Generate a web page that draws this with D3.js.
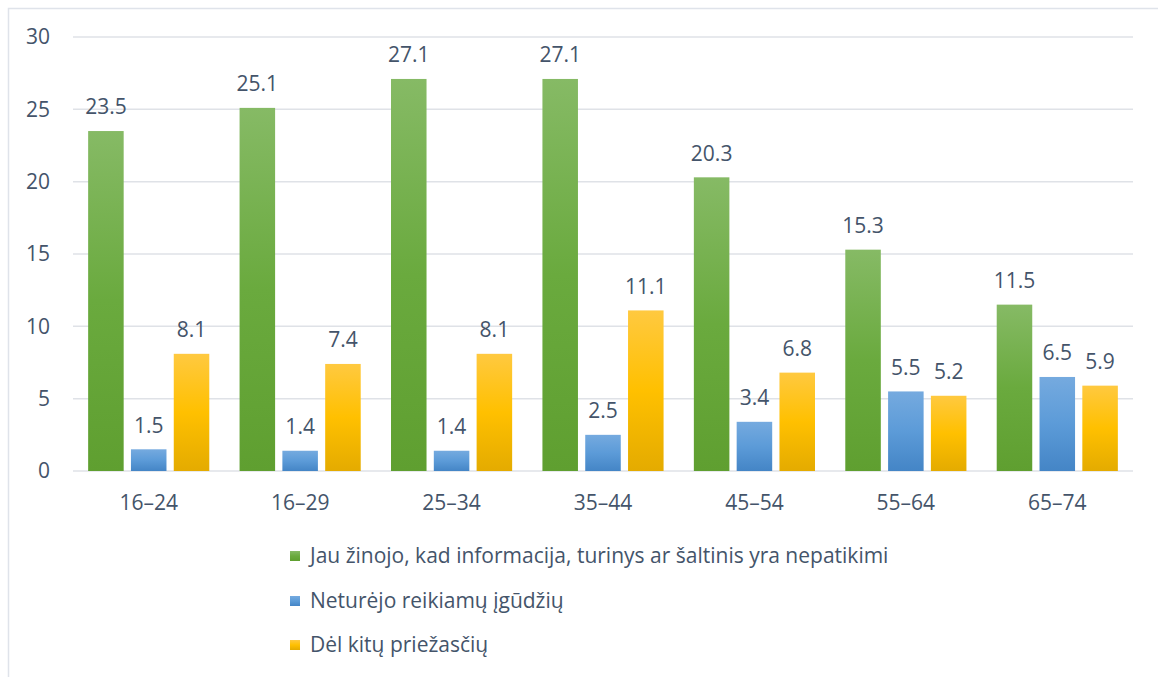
<!DOCTYPE html>
<html><head><meta charset="utf-8">
<script src="https://cdn.jsdelivr.net/npm/d3@7"></script>
<style>body{margin:0;background:#fff}svg{display:block}</style>
</head><body>
<svg id="c" width="1158" height="677"></svg>
<script>
const categories = ["16–24","16–29","25–34","35–44","45–54","55–64","65–74"];
const seriesNames = ["Jau žinojo, kad informacija, turinys ar šaltinis yra nepatikimi","Neturėjo reikiamų įgūdžių","Dėl kitų priežasčių"];
const known = [23.5,25.1,27.1,27.1,20.3,15.3,11.5];
const skills = [1.5,1.4,1.4,2.5,3.4,5.5,6.5];
const other = [8.1,7.4,8.1,11.1,6.8,5.2,5.9];
const yTicks = [0,5,10,15,20,25,30];

const series = [known, skills, other];
const grads = [
  ["#86ba65","#6aaa3e","#5f9f30"],
  ["#75aadf","#5c9bd8","#4485c6"],
  ["#ffc940","#ffc000","#e4ab00"]
];
const svg = d3.select("#c");
const font = "'Open Sans', 'Noto Sans', sans-serif";
const fs = 21;
const txt = "#44546a";
const defs = svg.append("defs");
grads.forEach((g,i)=>{
  const lg = defs.append("linearGradient").attr("id","g"+i).attr("x1",0).attr("y1",0).attr("x2",0).attr("y2",1);
  lg.append("stop").attr("offset","0%").attr("stop-color",g[0]);
  lg.append("stop").attr("offset","50%").attr("stop-color",g[1]);
  lg.append("stop").attr("offset","100%").attr("stop-color",g[2]);
});
// border
svg.append("rect").attr("x",8.5).attr("y",8.5).attr("width",1200).attr("height",800)
  .attr("fill","none").attr("stroke","#dfe3ea").attr("stroke-width",1.5);

const x0 = d3.scaleBand().domain(categories).range([73,1133]).paddingInner(0.2).paddingOuter(0.1);
const y = d3.scaleLinear().domain([0,30]).range([471,37]);
const x1 = d3.scaleBand().domain([0,1,2]).range([0,x0.bandwidth()]).paddingInner(0.17);

// gridlines
svg.append("g").selectAll("line").data(yTicks).join("line")
  .attr("x1",73).attr("x2",1133).attr("y1",d=>y(d)).attr("y2",d=>y(d))
  .attr("stroke","#dfe2e7").attr("stroke-width",1.5);

// y axis
const ya = svg.append("g").attr("transform","translate(50,0)")
  .call(d3.axisLeft(y).tickValues(yTicks).tickSize(0).tickPadding(0));
ya.select(".domain").remove();
ya.selectAll("text").attr("font-family",font).attr("font-size",fs).attr("fill",txt).attr("text-anchor","end");

// x axis labels
const xa = svg.append("g").attr("transform","translate(0,503)")
  .call(d3.axisBottom(x0).tickSize(0).tickPadding(0));
xa.select(".domain").remove();
xa.selectAll("text").attr("font-family",font).attr("font-size",fs).attr("fill",txt).attr("dy","0.35em");

// bars
const groups = svg.append("g").selectAll("g").data(categories).join("g")
  .attr("transform",d=>`translate(${x0(d)},0)`);
groups.selectAll("rect").data((d,ci)=>series.map((s,si)=>({si,v:s[ci]}))).join("rect")
  .attr("x",d=>x1(d.si)).attr("width",x1.bandwidth())
  .attr("y",d=>y(d.v)).attr("height",d=>y(0)-y(d.v))
  .attr("fill",d=>`url(#g${d.si})`);
groups.selectAll("text").data((d,ci)=>series.map((s,si)=>({si,v:s[ci]}))).join("text")
  .attr("x",d=>x1(d.si)+x1.bandwidth()/2).attr("y",d=>y(d.v)-24)
  .attr("dy","0.35em").attr("text-anchor","middle")
  .attr("font-family",font).attr("font-size",fs).attr("fill",txt)
  .text(d=>d.v.toFixed(1));

// legend
const lg = svg.append("g").selectAll("g").data(seriesNames).join("g")
  .attr("transform",(d,i)=>`translate(290,${[556,601,645][i]})`);
lg.append("rect").attr("x",0).attr("y",-5).attr("width",10).attr("height",10).attr("fill",(d,i)=>`url(#g${i})`);
lg.append("text").attr("x",20).attr("dy","0.35em").attr("font-family",font).attr("font-size",fs)
  .attr("fill",txt).text(d=>d);
</script>
</body></html>
